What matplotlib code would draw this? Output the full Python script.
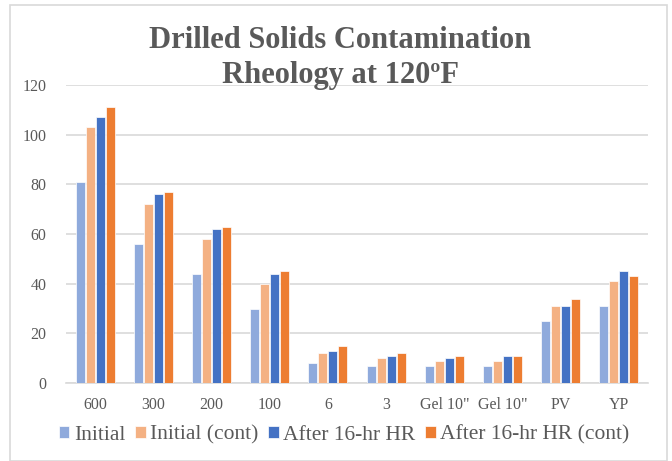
import matplotlib
matplotlib.use("Agg")
import matplotlib.pyplot as plt
import numpy as np
from matplotlib.patches import Rectangle

categories = ["600", "300", "200", "100", "6", "3", 'Gel 10"', 'Gel 10"', "PV", "YP"]
initial = [81, 56, 44, 30, 8, 7, 7, 7, 25, 31]
initial_cont = [103, 72, 58, 40, 12, 10, 9, 9, 31, 41]
after = [107, 76, 62, 44, 13, 11, 10, 11, 31, 45]
after_cont = [111, 77, 63, 45, 15, 12, 11, 11, 34, 43]
series_names = ["Initial", "Initial (cont)", "After 16-hr HR", "After 16-hr HR (cont)"]
colors = ["#8FAADC", "#F4B183", "#4472C4", "#ED7D31"]

plt.rcParams['font.family'] = ['Liberation Serif', 'DejaVu Serif']

fig = plt.figure(figsize=(6.72, 4.61), dpi=100)
fig.patch.set_facecolor("white")
fig.patches.append(Rectangle((10/672, 0.0), 657/672, 456/461, transform=fig.transFigure,
                             fill=False, edgecolor="#D9D9D9", linewidth=1.2))

ax = fig.add_axes([66/672, 78/461, 582/672, 298/461])
x = np.arange(len(categories))
step = 0.172
width = 0.155
data = [initial, initial_cont, after, after_cont]
for i, (vals, c, n) in enumerate(zip(data, colors, series_names)):
    ax.bar(x + (i - 1.5) * step, vals, width=width, color=c, edgecolor="white",
           linewidth=0.5, label=n, zorder=3)

ax.set_ylim(0, 120)
ax.set_xlim(-0.5, len(categories) - 0.5)
ax.set_yticks(range(0, 121, 20))
ax.yaxis.grid(True, color="#D9D9D9", linewidth=1.2, zorder=0)
ax.set_axisbelow(True)
for s in ["top", "right", "left"]:
    ax.spines[s].set_visible(False)
ax.spines["bottom"].set_color("#D9D9D9")
ax.spines["bottom"].set_linewidth(1.2)
ax.tick_params(axis="both", length=0, labelsize=11.5, colors="#595959")
ax.tick_params(axis="y", pad=14)
ax.tick_params(axis="x", pad=10)
ax.set_xticks(x)
ax.set_xticklabels(categories)

fig.text(340/672, 1 - 40/461, "Drilled Solids Contamination",
         ha="center", va="center", fontsize=22, fontweight="bold", color="#595959")
fig.text(340/672, 1 - 75/461, "Rheology at 120ºF",
         ha="center", va="center", fontsize=22, fontweight="bold", color="#595959")

handles, labels = ax.get_legend_handles_labels()
fig.legend(handles, labels, loc="center", bbox_to_anchor=(344/672, 1 - 435/461), ncol=4,
           frameon=False, fontsize=15.5, handlelength=0.5, handleheight=0.5,
           handletextpad=0.2, columnspacing=0.45, labelcolor="#595959")

fig.savefig("out.png", dpi=100, facecolor="white")
